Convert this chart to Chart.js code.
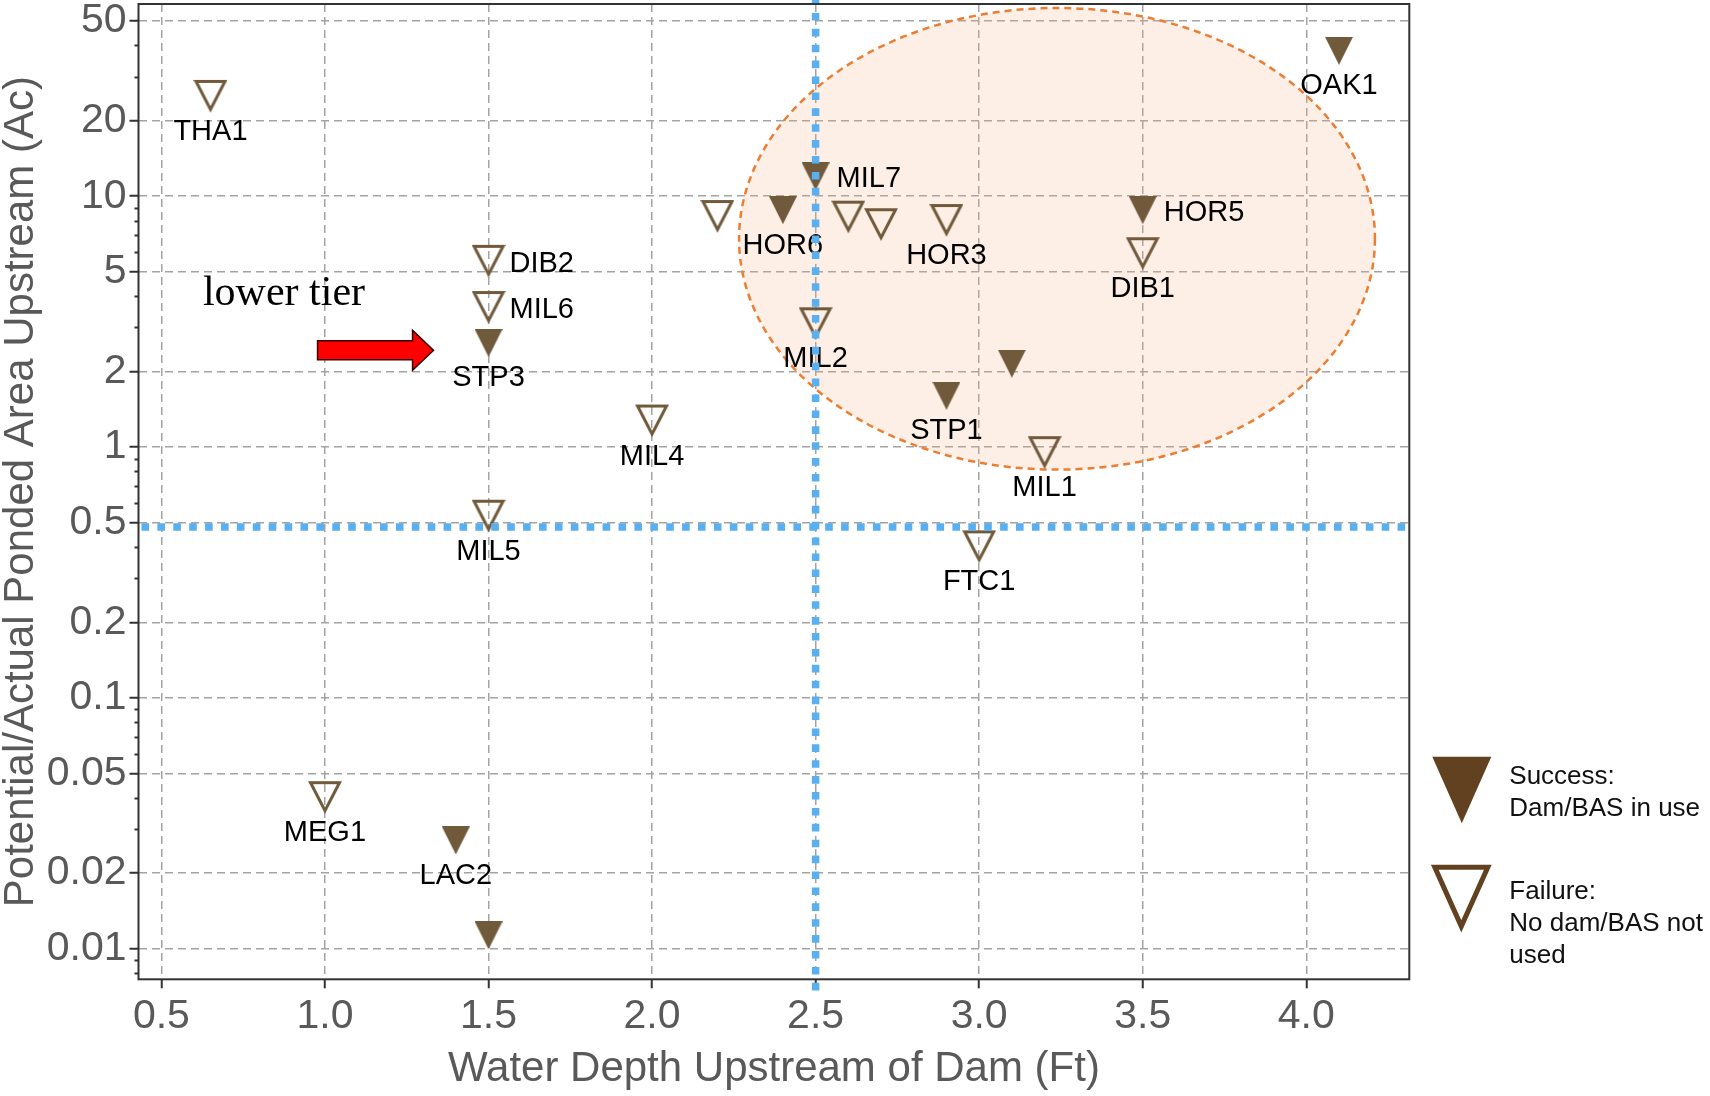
<!DOCTYPE html>
<html>
<head>
<meta charset="utf-8">
<title>Water depth vs ponded area</title>
<script src="https://cdn.jsdelivr.net/npm/chart.js@4.4.1/dist/chart.umd.min.js"></script>
<style>
  html, body { margin: 0; padding: 0; background: #fff; }
</style>
</head>
<body>
<canvas id="chart" width="1710" height="1096"></canvas>
<script>
// sites where a dam / BAS is in use (filled markers)
const successSites = ["OAK1", "MIL7", "HOR6", "HOR5", "", "STP1", "STP3", "LAC2", ""];
const successDepth = [4.1, 2.5, 2.4, 3.5, 3.1, 2.9, 1.5, 1.4, 1.5];
const successArea = [38, 12, 8.8, 8.8, 2.15, 1.6, 2.6, 0.027, 0.0113];

// sites with no dam / BAS not used (open markers)
const failureSites = ["THA1", "DIB2", "MIL6", "MIL4", "MIL5", "MEG1", "", "", "", "HOR3", "DIB1", "MIL2", "MIL1", "FTC1"];
const failureDepth = [0.65, 1.5, 1.5, 2.0, 1.5, 1.0, 2.2, 2.6, 2.7, 2.9, 3.5, 2.5, 3.2, 3.0];
const failureArea = [25, 5.5, 3.6, 1.27, 0.53, 0.04, 8.3, 8.25, 7.7, 8.0, 5.9, 3.1, 0.95, 0.4];

// axes
const xTicks = [0.5, 1.0, 1.5, 2.0, 2.5, 3.0, 3.5, 4.0];
const xRange = [0.43, 4.315];
const yTicks = [0.01, 0.02, 0.05, 0.1, 0.2, 0.5, 1, 2, 5, 10, 20, 50];
const yTickLabels = ["0.01", "0.02", "0.05", "0.1", "0.2", "0.5", "1", "2", "5", "10", "20", "50"];
const yRange = [0.00755, 58.4];

// reference lines and highlighted zone
const depthThreshold = 2.5;
const areaThreshold = 0.48;
const focusZone = { xMin: 2.266, xMax: 4.21, yMin: 0.813, yMax: 56.3 };
const tierNote = { text: "lower tier", x: 0.627, y: 3.67 };
const tierArrowTip = { x: 1.332, y: 2.43 };

const rightLabels = ["MIL7", "HOR5", "DIB2", "MIL6"];

const FONT = "'Liberation Sans', Arial, sans-serif";
const AXIS_GREY = "#595959";
const MARKER = "#705a3b";
const LEGEND_BROWN = "#61411f";

Chart.defaults.font.family = FONT;

function triangleCanvas(filled) {
  const c = document.createElement("canvas");
  const g = c.getContext("2d");
  if (filled) {
    c.width = 28; c.height = 28;
    g.beginPath();
    g.moveTo(0, 0); g.lineTo(28, 0); g.lineTo(14, 28);
    g.closePath();
    g.fillStyle = MARKER;
    g.fill();
  } else {
    c.width = 34; c.height = 35;
    g.beginPath();
    g.moveTo(2.5, 2.5); g.lineTo(31.5, 2.5); g.lineTo(17, 30.5);
    g.closePath();
    g.lineWidth = 3;
    g.lineJoin = "miter";
    g.strokeStyle = MARKER;
    g.stroke();
  }
  return c;
}

const toPoints = (sites, depth, area) => sites.map((s, i) => ({ x: depth[i], y: area[i], site: s }));

const focusZonePlugin = {
  id: "focusZone",
  beforeDatasetsDraw(chart) {
    const { ctx, scales: { x, y } } = chart;
    const x1 = x.getPixelForValue(focusZone.xMin), x2 = x.getPixelForValue(focusZone.xMax);
    const y1 = y.getPixelForValue(focusZone.yMax), y2 = y.getPixelForValue(focusZone.yMin);
    ctx.save();
    ctx.beginPath();
    ctx.ellipse((x1 + x2) / 2, (y1 + y2) / 2, (x2 - x1) / 2, (y2 - y1) / 2, 0, 0, Math.PI * 2);
    ctx.fillStyle = "rgba(244,177,131,0.2)";
    ctx.fill();
    ctx.setLineDash([7, 5]);
    ctx.lineWidth = 2.5;
    ctx.strokeStyle = "#ED7D31";
    ctx.stroke();
    ctx.restore();

    // "lower tier" note and arrow
    ctx.save();
    ctx.font = "42px 'Liberation Serif', 'Times New Roman', serif";
    ctx.fillStyle = "#000";
    ctx.textBaseline = "alphabetic";
    ctx.fillText(tierNote.text, x.getPixelForValue(tierNote.x), y.getPixelForValue(tierNote.y));
    const tx = x.getPixelForValue(tierArrowTip.x), ty = y.getPixelForValue(tierArrowTip.y);
    ctx.beginPath();
    ctx.moveTo(tx, ty);
    ctx.lineTo(tx - 21, ty - 20);
    ctx.lineTo(tx - 21, ty - 9.5);
    ctx.lineTo(tx - 116, ty - 9.5);
    ctx.lineTo(tx - 116, ty + 9.5);
    ctx.lineTo(tx - 21, ty + 9.5);
    ctx.lineTo(tx - 21, ty + 20);
    ctx.closePath();
    ctx.fillStyle = "#ff0000";
    ctx.fill();
    ctx.lineWidth = 1.5;
    ctx.strokeStyle = "#3a0000";
    ctx.stroke();
    ctx.restore();
  }
};

const siteLabelPlugin = {
  id: "siteLabels",
  afterDatasetsDraw(chart) {
    const ctx = chart.ctx;
    ctx.save();
    ctx.font = "29px " + FONT;
    ctx.fillStyle = "#000";
    ctx.textBaseline = "alphabetic";
    chart.data.datasets.forEach((ds, i) => {
      chart.getDatasetMeta(i).data.forEach((pt, j) => {
        const name = ds.data[j].site;
        if (!name) return;
        if (rightLabels.includes(name)) {
          ctx.textAlign = "left";
          ctx.fillText(name, pt.x + 21, pt.y + 10.5);
        } else {
          ctx.textAlign = "center";
          ctx.fillText(name, pt.x, pt.y + 43.5);
        }
      });
    });
    ctx.restore();

    // dotted threshold lines
    const { chartArea: a, scales: { x, y } } = chart;
    const vx = x.getPixelForValue(depthThreshold);
    const hy = y.getPixelForValue(areaThreshold);
    ctx.save();
    ctx.strokeStyle = "#58b0f0";
    ctx.lineWidth = 7.5;
    ctx.setLineDash([7.6, 8.3]);
    ctx.beginPath();
    ctx.moveTo(vx, a.top - 7);
    ctx.lineTo(vx, a.bottom + 17);
    ctx.moveTo(a.left + 3, hy);
    ctx.lineTo(a.right + 4, hy);
    ctx.stroke();
    ctx.restore();

    // plot frame and minor ticks
    ctx.save();
    ctx.strokeStyle = "#333";
    ctx.lineWidth = 2;
    ctx.strokeRect(a.left, a.top, a.right - a.left, a.bottom - a.top);
    ctx.beginPath();
    for (let k = -3; k <= 1; k++) {
      [3, 4, 6, 7, 8, 9].forEach(m => {
        const v = m * Math.pow(10, k);
        if (v < yRange[0] || v > yRange[1]) return;
        const py = Math.round(y.getPixelForValue(v)) + 0.5;
        ctx.moveTo(a.left - 4, py);
        ctx.lineTo(a.left, py);
      });
    }
    ctx.stroke();
    ctx.restore();
  }
};

const sideLegendPlugin = {
  id: "sideLegend",
  afterDraw(chart) {
    const { ctx, chartArea: a } = chart;
    const x0 = a.right + 23;
    ctx.save();
    // filled entry
    ctx.beginPath();
    ctx.moveTo(x0, a.bottom - 222.5);
    ctx.lineTo(x0 + 59, a.bottom - 222.5);
    ctx.lineTo(x0 + 29.5, a.bottom - 156);
    ctx.closePath();
    ctx.fillStyle = LEGEND_BROWN;
    ctx.fill();
    // open entry
    ctx.beginPath();
    ctx.moveTo(x0 + 2.5, a.bottom - 112);
    ctx.lineTo(x0 + 55.5, a.bottom - 112);
    ctx.lineTo(x0 + 29, a.bottom - 53);
    ctx.closePath();
    ctx.lineWidth = 5;
    ctx.strokeStyle = LEGEND_BROWN;
    ctx.stroke();

    ctx.font = "26px " + FONT;
    ctx.fillStyle = "#111";
    ctx.textBaseline = "alphabetic";
    const tx = a.right + 100;
    [["Success:", -195], ["Dam/BAS in use", -163.3],
     ["Failure:", -80], ["No dam/BAS not", -48.3], ["used", -16.7]].forEach(([t, dy]) => {
      ctx.fillText(t, tx, a.bottom + dy);
    });
    ctx.restore();
  }
};

new Chart(document.getElementById("chart"), {
  type: "scatter",
  data: {
    datasets: [
      {
        label: "Success: Dam/BAS in use",
        data: toPoints(successSites, successDepth, successArea),
        pointStyle: triangleCanvas(true),
        pointRadius: 1,
        pointBorderWidth: 0,
        clip: 20,
      },
      {
        label: "Failure: No dam/BAS not used",
        data: toPoints(failureSites, failureDepth, failureArea),
        pointStyle: triangleCanvas(false),
        pointRadius: 1,
        pointBorderWidth: 0,
        clip: 20,
      },
    ],
  },
  options: {
    responsive: false,
    animation: false,
    events: [],
    layout: { padding: { left: 0, right: 300.7, top: 3.3, bottom: 0 } },
    scales: {
      x: {
        type: "linear",
        min: xRange[0],
        max: xRange[1],
        afterBuildTicks: (s) => { s.ticks = xTicks.map(v => ({ value: v })); },
        afterFit: (s) => { s.height = 116.7; s.paddingLeft = 0; s.paddingRight = 0; },
        ticks: {
          callback: (v) => v.toFixed(1),
          color: AXIS_GREY,
          font: { size: 41, lineHeight: 1 },
          padding: 8,
          maxRotation: 0,
          autoSkip: false,
        },
        grid: { color: "#a3a3a3", lineWidth: 1.5, tickColor: "#333", tickWidth: 2, tickLength: 9 },
        border: { display: false, dash: [8, 5] },
        title: {
          display: true,
          text: "Water Depth Upstream of Dam (Ft)",
          color: AXIS_GREY,
          font: { size: 42, lineHeight: 1 },
          padding: { top: 0, bottom: 6 },
        },
      },
      y: {
        type: "logarithmic",
        min: yRange[0],
        max: yRange[1],
        afterBuildTicks: (s) => { s.ticks = yTicks.map(v => ({ value: v })); },
        afterFit: (s) => { s.width = 138.5; s.paddingTop = 0; s.paddingBottom = 0; },
        ticks: {
          callback: (v) => yTickLabels[yTicks.indexOf(v)] ?? "",
          color: AXIS_GREY,
          font: { size: 41, lineHeight: 1 },
          padding: 3,
          autoSkip: false,
        },
        grid: { color: "#a3a3a3", lineWidth: 1.5, tickColor: "#333", tickWidth: 2, tickLength: 9 },
        border: { display: false, dash: [8, 5] },
        title: {
          display: true,
          text: "Potential/Actual Ponded Area Upstream (Ac)",
          color: AXIS_GREY,
          font: { size: 42, lineHeight: 1 },
          padding: 0,
        },
      },
    },
    plugins: {
      legend: { display: false },
      tooltip: { enabled: false },
    },
  },
  plugins: [focusZonePlugin, siteLabelPlugin, sideLegendPlugin],
});
</script>
</body>
</html>
